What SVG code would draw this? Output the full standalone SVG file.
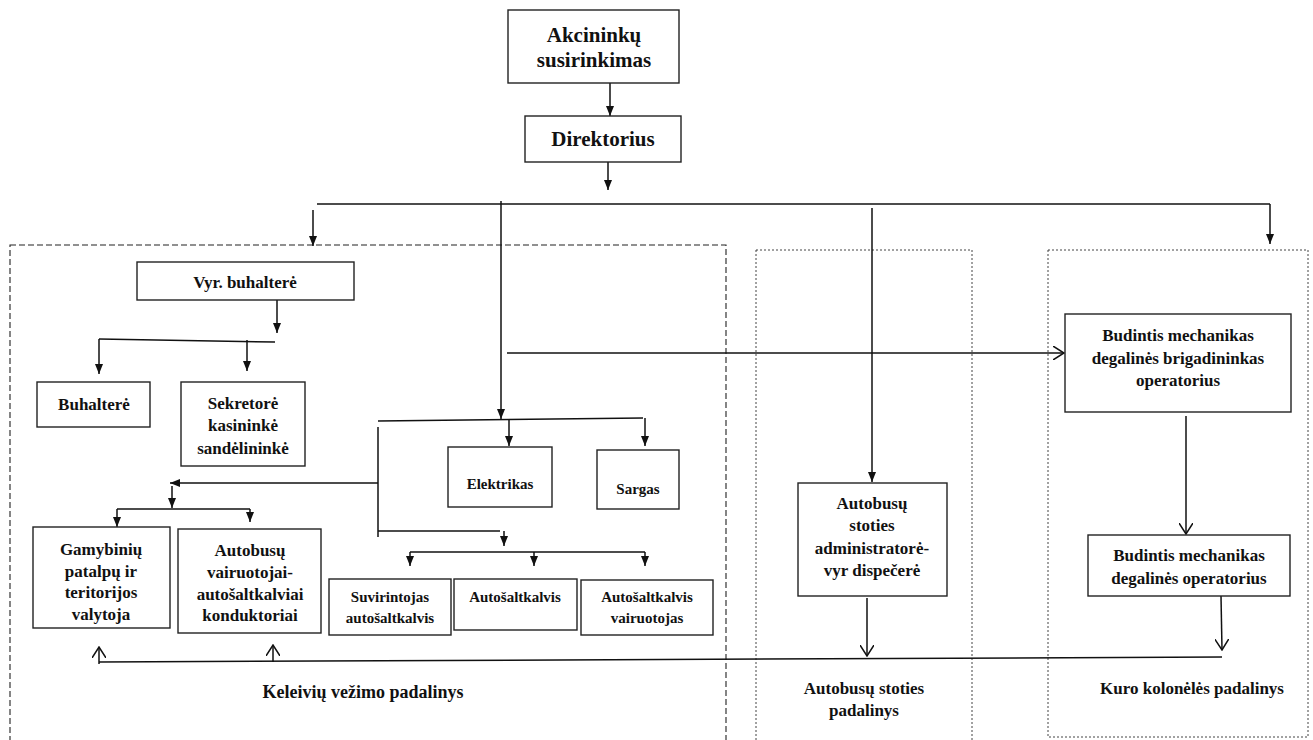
<svg xmlns="http://www.w3.org/2000/svg" width="1313" height="740" viewBox="0 0 1313 740">
<style>
.box{fill:#fff;stroke:#222;stroke-width:1.4}
.t{font-family:"Liberation Serif","Times New Roman",serif;font-weight:bold;fill:#111;text-anchor:middle}
.big{font-size:21px}
.m{font-size:17px}
.l{font-size:18px}
.s{font-size:15px}
.c{fill:none;stroke:#111;stroke-width:1.5}
.f{marker-end:url(#af)}
.o{marker-end:url(#ao)}
.dash{fill:none;stroke:#222;stroke-width:1.1;stroke-dasharray:6 3}
.dot{fill:none;stroke:#444;stroke-width:1;stroke-dasharray:2 2}
</style>
<defs>
<marker id="af" viewBox="0 0 10 10" refX="10" refY="5" markerWidth="10" markerHeight="10" markerUnits="userSpaceOnUse" orient="auto">
<path d="M0,1 L10,5 L0,9 Z" fill="#111"/>
</marker>
<marker id="ao" viewBox="0 0 12 14" refX="11" refY="7" markerWidth="12" markerHeight="14" markerUnits="userSpaceOnUse" orient="auto">
<path d="M0,0 L11,7 L0,14" fill="none" stroke="#111" stroke-width="1.5"/>
</marker>
<clipPath id="gclip"><rect x="33" y="527" width="137" height="101"/></clipPath>
</defs>

<g id="sections">
<rect class="dash" x="10" y="245" width="716" height="500"/>
<rect class="dot" x="756" y="250" width="216" height="495"/>
<rect class="dot" x="1048" y="250" width="260" height="487"/>
</g>

<g id="connectors">
<line class="c f" x1="610" y1="83" x2="610" y2="116"/>
<line class="c f" x1="608" y1="162" x2="608" y2="190"/>
<line class="c" x1="317" y1="204" x2="1270" y2="204"/>
<line class="c f" x1="313" y1="210" x2="313" y2="246"/>
<line class="c f" x1="501" y1="201" x2="501" y2="419"/>
<line class="c f" x1="872" y1="208" x2="872" y2="482"/>
<line class="c f" x1="1270" y1="204" x2="1270" y2="244"/>
<line class="c o" x1="507" y1="353" x2="1064" y2="353"/>
<line class="c f" x1="277" y1="300" x2="277" y2="333"/>
<line class="c" x1="99" y1="339" x2="275" y2="342"/>
<line class="c f" x1="99" y1="339" x2="99" y2="374"/>
<line class="c f" x1="247" y1="340" x2="247" y2="371"/>
<line class="c" x1="378" y1="421" x2="643" y2="418"/>
<line class="c f" x1="509" y1="420" x2="509" y2="446"/>
<line class="c f" x1="645" y1="418" x2="645" y2="446"/>
<line class="c" x1="378" y1="427" x2="378" y2="537"/>
<line class="c f" x1="378" y1="483" x2="170" y2="483"/>
<line class="c f" x1="172" y1="486" x2="172" y2="508"/>
<line class="c" x1="117" y1="509" x2="250" y2="509"/>
<line class="c f" x1="117" y1="509" x2="117" y2="527"/>
<line class="c f" x1="250" y1="509" x2="250" y2="522"/>
<line class="c" x1="378" y1="531" x2="500" y2="531"/>
<line class="c f" x1="504" y1="531" x2="504" y2="546"/>
<line class="c" x1="410" y1="552" x2="645" y2="552"/>
<line class="c f" x1="410" y1="552" x2="410" y2="566"/>
<line class="c f" x1="534" y1="552" x2="534" y2="566"/>
<line class="c f" x1="645" y1="552" x2="645" y2="566"/>
<line class="c" x1="99" y1="662" x2="1222" y2="657"/>
<line class="c o" x1="99" y1="664" x2="99" y2="647"/>
<line class="c o" x1="273" y1="662" x2="273" y2="645"/>
<line class="c o" x1="867" y1="598" x2="867" y2="656"/>
<line class="c o" x1="1221" y1="596" x2="1222" y2="650"/>
<line class="c o" x1="1186" y1="416" x2="1186" y2="534"/>
</g>

<g id="akcininku">
<rect class="box" x="508" y="10" width="171" height="73"/>
<text class="t big" x="594" y="42">Akcininkų</text>
<text class="t big" x="594" y="67">susirinkimas</text>
</g>
<g id="direktorius">
<rect class="box" x="525" y="116" width="156" height="46"/>
<text class="t big" x="603" y="146">Direktorius</text>
</g>
<g id="vyr-buhaltere">
<rect class="box" x="137" y="262" width="217" height="38"/>
<text class="t m" x="245" y="288">Vyr. buhalterė</text>
</g>
<g id="buhaltere">
<rect class="box" x="37" y="382" width="113" height="45"/>
<text class="t m" x="94" y="410">Buhalterė</text>
</g>
<g id="sekretore">
<rect class="box" x="181" y="382" width="124" height="84"/>
<text class="t m" x="243" y="409">Sekretorė</text>
<text class="t m" x="243" y="431">kasininkė</text>
<text class="t m" x="243" y="454">sandėlininkė</text>
</g>
<g id="elektrikas">
<rect class="box" x="448" y="447" width="104" height="60"/>
<text class="t s" x="500" y="489">Elektrikas</text>
</g>
<g id="sargas">
<rect class="box" x="597" y="450" width="82" height="59"/>
<text class="t s" x="638" y="494">Sargas</text>
</g>
<g id="gamybiniu">
<rect class="box" x="33" y="527" width="137" height="101"/>
<g clip-path="url(#gclip)">
<text class="t m" x="101" y="555">Gamybinių</text>
<text class="t m" x="101" y="577">patalpų ir</text>
<text class="t m" x="101" y="598">teritorijos</text>
<text class="t m" x="101" y="620">valytoja</text>
</g>
</g>
<g id="vairuotojai">
<rect class="box" x="178" y="529" width="143" height="104"/>
<text class="t m" x="250" y="556">Autobusų</text>
<text class="t m" x="250" y="578">vairuotojai-</text>
<text class="t m" x="250" y="600">autošaltkalviai</text>
<text class="t m" x="250" y="621">konduktoriai</text>
</g>
<g id="suvirintojas">
<rect class="box" x="329" y="579" width="122" height="56"/>
<text class="t s" x="390" y="602">Suvirintojas</text>
<text class="t s" x="390" y="623">autošaltkalvis</text>
</g>
<g id="autosaltkalvis">
<rect class="box" x="454" y="579" width="123" height="51"/>
<text class="t s" x="515" y="602">Autošaltkalvis</text>
</g>
<g id="autosaltkalvis-vairuotojas">
<rect class="box" x="581" y="580" width="132" height="55"/>
<text class="t s" x="647" y="602">Autošaltkalvis</text>
<text class="t s" x="647" y="623">vairuotojas</text>
</g>
<g id="stoties-administratore">
<rect class="box" x="798" y="483" width="149" height="113"/>
<text class="t m" x="872" y="509">Autobusų</text>
<text class="t m" x="872" y="531">stoties</text>
<text class="t m" x="872" y="554">administratorė-</text>
<text class="t m" x="872" y="576">vyr dispečerė</text>
</g>
<g id="budintis-1">
<rect class="box" x="1065" y="314" width="226" height="98"/>
<text class="t m" x="1178" y="341">Budintis mechanikas</text>
<text class="t m" x="1178" y="364">degalinės brigadininkas</text>
<text class="t m" x="1178" y="386">operatorius</text>
</g>
<g id="budintis-2">
<rect class="box" x="1088" y="535" width="202" height="61"/>
<text class="t m" x="1189" y="561">Budintis mechanikas</text>
<text class="t m" x="1189" y="584">degalinės operatorius</text>
</g>

<g id="labels">
<text class="t l" x="363" y="698">Keleivių vežimo padalinys</text>
<text class="t m" x="864" y="694">Autobusų stoties</text>
<text class="t m" x="864" y="716">padalinys</text>
<text class="t m" x="1192" y="694">Kuro kolonėlės padalinys</text>
</g>
</svg>
